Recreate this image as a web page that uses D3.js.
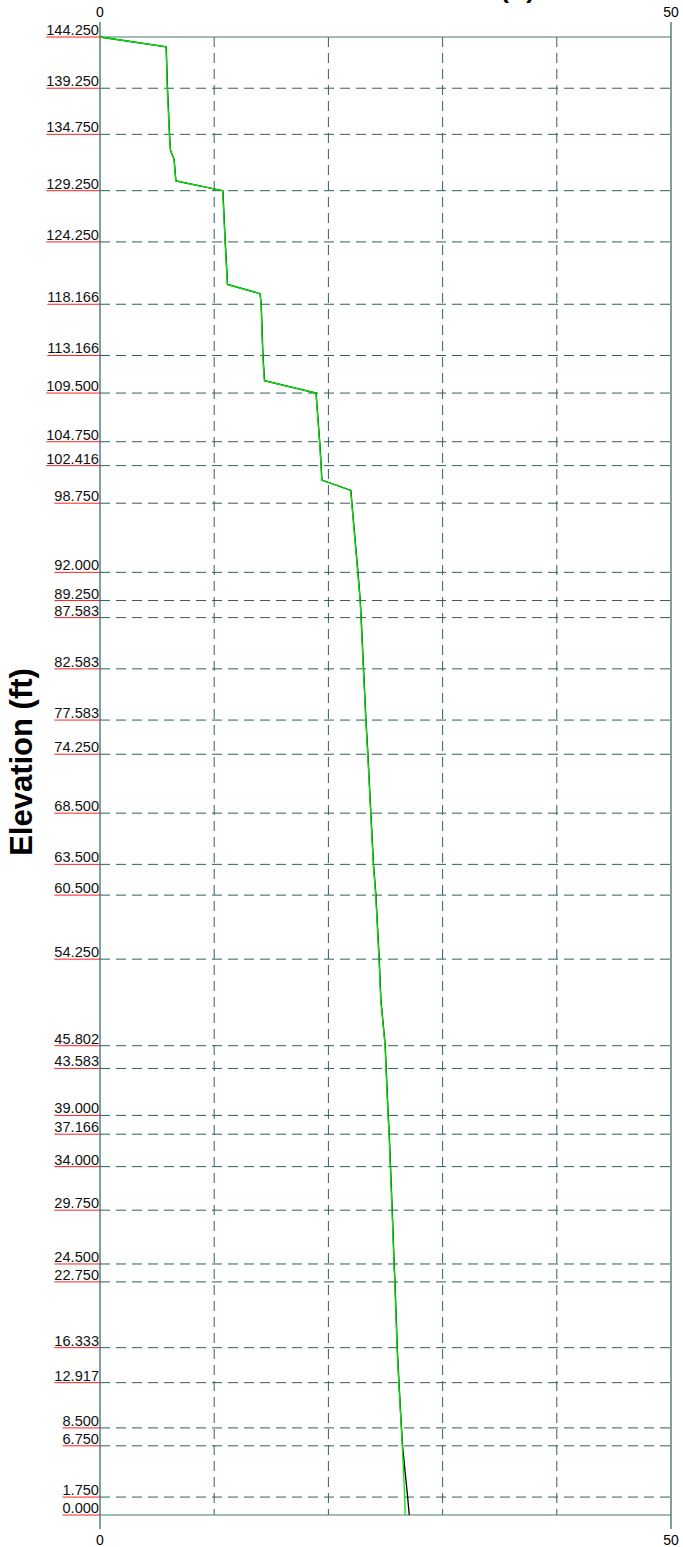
<!DOCTYPE html>
<html>
<head>
<meta charset="utf-8">
<script src="https://cdn.jsdelivr.net/npm/d3@7"></script>
<style>
  body { margin: 0; background: #fff; }
  svg { display: block; font-family: "Liberation Sans", Arial, sans-serif; }
</style>
</head>
<body>
<div id="chart"></div>
<script>
// elevation ticks shown on the left axis
const elevTicks = [144.25, 139.25, 134.75, 129.25, 124.25, 118.166, 113.166, 109.5, 104.75, 102.416,
  98.75, 92.0, 89.25, 87.583, 82.583, 77.583, 74.25, 68.5, 63.5, 60.5, 54.25, 45.802, 43.583,
  39.0, 37.166, 34.0, 29.75, 24.5, 22.75, 16.333, 12.917, 8.5, 6.75, 1.75, 0.0];

// x ticks (top + bottom) and dashed grid columns
const xTicks = [0, 50];
const xGrid = [10, 20, 30, 40];

// profile points (elevation, ft)
const elev = [144.25, 143.3, 139.25, 134.75, 133.2, 132.3, 130.2, 129.25, 124.25, 120.1, 119.2,
  118.166, 113.166, 110.7, 109.5, 104.75, 102.416, 101.0, 100.0, 98.75, 92.0, 89.25, 87.583,
  82.583, 77.583, 74.25, 68.5, 63.5, 60.5, 54.25, 50.25, 45.802, 43.583, 39.0, 37.166, 34.0,
  29.75, 24.5, 22.75, 16.333, 12.917, 8.5, 6.75, 1.75, 0];

const greenVals = [0, 5.78, 5.89, 6.07, 6.16, 6.48, 6.63, 10.74, 10.95, 11.15, 14.01, 14.10, 14.25,
  14.39, 18.91, 19.22, 19.35, 19.41, 21.95, 22.04, 22.57, 22.77, 22.85, 23.06, 23.27, 23.44,
  23.70, 23.93, 24.14, 24.43, 24.58, 24.96, 25.04, 25.22, 25.31, 25.42, 25.57, 25.74, 25.81,
  26.01, 26.16, 26.38, 26.47, 26.68, 26.73];

const blackVals = [0, 5.80, 5.91, 6.09, 6.17, 6.49, 6.65, 10.76, 10.97, 11.17, 14.02, 14.12, 14.27,
  14.41, 18.92, 19.24, 19.37, 19.43, 21.97, 22.06, 22.59, 22.79, 22.87, 23.08, 23.29, 23.46,
  23.72, 23.95, 24.16, 24.45, 24.60, 24.98, 25.06, 25.24, 25.33, 25.44, 25.59, 25.76, 25.83,
  26.03, 26.18, 26.40, 26.49, 26.94, 27.08];

const width = 683;
const height = 1547;
const axisColor = "#2f5f5f";

const svg = d3.select("#chart")
  .append("svg")
  .attr("width", width)
  .attr("height", height);

const xScale = d3.scaleLinear().domain([0, 50]).range([100, 671]);
const yScale = d3.scaleLinear().domain([0, 144.25]).range([1515, 37]);

// title, mostly above the top edge as in the source
svg.append("text")
  .attr("x", 535)
  .attr("y", -2)
  .attr("text-anchor", "end")
  .attr("font-size", "26px")
  .attr("font-weight", "bold")
  .text("Deflection (ft)");

// horizontal dashed grid
svg.append("g")
  .selectAll("line")
  .data(elevTicks.filter(d => d !== 144.25 && d !== 0))
  .join("line")
  .attr("x1", xScale(0))
  .attr("x2", xScale(50))
  .attr("y1", d => yScale(d))
  .attr("y2", d => yScale(d))
  .attr("stroke", axisColor)
  .attr("stroke-width", 1)
  .attr("stroke-dasharray", "10,6");

// vertical dashed grid
svg.append("g")
  .selectAll("line")
  .data(xGrid)
  .join("line")
  .attr("x1", d => xScale(d))
  .attr("x2", d => xScale(d))
  .attr("y1", yScale(144.25))
  .attr("y2", yScale(0))
  .attr("stroke", axisColor)
  .attr("stroke-width", 1)
  .attr("stroke-dasharray", "10,6");

// frame: top/bottom solid, sides extend past plot
svg.append("line")
  .attr("x1", xScale(0)).attr("x2", xScale(50))
  .attr("y1", yScale(144.25)).attr("y2", yScale(144.25))
  .attr("stroke", "#4f7575").attr("stroke-width", 1.2);
svg.append("line")
  .attr("x1", xScale(0)).attr("x2", xScale(50))
  .attr("y1", yScale(0)).attr("y2", yScale(0))
  .attr("stroke", "#4f7575").attr("stroke-width", 1.2);

svg.append("g")
  .selectAll("line")
  .data(xTicks)
  .join("line")
  .attr("x1", d => xScale(d))
  .attr("x2", d => xScale(d))
  .attr("y1", yScale(144.25) - 15)
  .attr("y2", yScale(0) + 14)
  .attr("stroke", axisColor)
  .attr("stroke-width", 1.2);

// x tick labels top and bottom
svg.append("g")
  .selectAll("text")
  .data(xTicks)
  .join("text")
  .attr("x", d => xScale(d))
  .attr("y", 17)
  .attr("text-anchor", "middle")
  .attr("font-size", "14px")
  .text(d => d);

svg.append("g")
  .selectAll("text")
  .data(xTicks)
  .join("text")
  .attr("x", d => xScale(d))
  .attr("y", 1545)
  .attr("text-anchor", "middle")
  .attr("font-size", "14px")
  .text(d => d);

// elevation labels with red underline
const labels = svg.append("g")
  .selectAll("g")
  .data(elevTicks)
  .join("g");

labels.append("text")
  .attr("x", xScale(0) - 1)
  .attr("y", d => yScale(d) - 2)
  .attr("text-anchor", "end")
  .attr("font-size", "14.6px")
  .attr("fill", "#111")
  .text(d => d.toFixed(3));

labels.each(function (d) {
  const g = d3.select(this);
  const w = g.select("text").node().getComputedTextLength();
  g.append("line")
    .attr("x1", xScale(0) - 1 - w)
    .attr("x2", xScale(0))
    .attr("y1", yScale(d))
    .attr("y2", yScale(d))
    .attr("stroke", "#ff2020")
    .attr("stroke-width", 1);
});

// y axis title
svg.append("text")
  .attr("transform", "translate(32, 762) rotate(-90)")
  .attr("text-anchor", "middle")
  .attr("font-size", "31px")
  .attr("font-weight", "bold")
  .text("Elevation (ft)");

// profile lines
const line = d3.line()
  .x(d => xScale(d.v))
  .y(d => yScale(d.e));

const blackPts = elev.map((e, i) => ({ e, v: blackVals[i] }));
const greenPts = elev.map((e, i) => ({ e, v: greenVals[i] }));

svg.append("path")
  .attr("d", line(blackPts))
  .attr("fill", "none")
  .attr("stroke", "#000")
  .attr("stroke-width", 1.3);

svg.append("path")
  .attr("d", line(greenPts))
  .attr("fill", "none")
  .attr("stroke", "#00e600")
  .attr("stroke-width", 1.3);
</script>
</body>
</html>
